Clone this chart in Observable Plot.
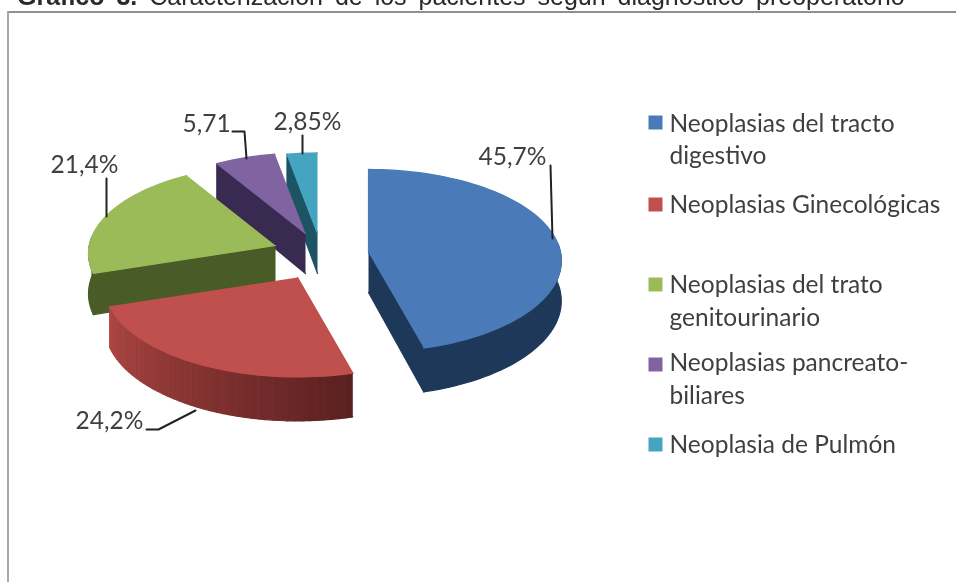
<!DOCTYPE html>
<html lang="es">
<head>
<meta charset="utf-8">
<script src="https://cdn.jsdelivr.net/npm/d3@7"></script>
<script src="https://cdn.jsdelivr.net/npm/@observablehq/plot@0.6"></script>
<style>
  html, body { margin: 0; padding: 0; background: #fff; overflow: hidden; }
  #title { height: 10px; overflow: hidden; font: 25px/10px "Liberation Sans", sans-serif; color: #2a2a2a; white-space: nowrap; padding-left: 17px; word-spacing: 5px; filter: blur(.5px); }
  #title > span { position: relative; top: -9px; }
  svg { display: block; filter: blur(.5px); }
</style>
</head>
<body>
<div id="title"><span><b>Gráfico 3.</b> Caracterización de los pacientes según diagnóstico preoperatorio</span></div>
<div id="chart"></div>
<script>
// --- values
const categories = ["Neoplasias del tracto digestivo", "Neoplasias Ginecológicas", "Neoplasias del trato genitourinario", "Neoplasias pancreato-biliares", "Neoplasia de Pulmón"];
const shares = [45.7, 24.2, 21.4, 5.71, 2.85];
const shareLabels = ["45,7%", "24,2%", "21,4%", "5,71", "2,85%"];
const legendLines = [["Neoplasias del tracto", "digestivo"], ["Neoplasias Ginecológicas"], ["Neoplasias del trato", "genitourinario"], ["Neoplasias pancreato-", "biliares"], ["Neoplasia de Pulmón"]];

// --- styles
const topColors = ["#4a7ab8", "#c0504d", "#9bbb59", "#8064a2", "#45a5c0"];
const wallNear = ["#1d3859", "#5a2020", "#495b26", "#392a52", "#1c5464"];
const wallFar = ["#1d3859", "#b04744", "#495b26", "#392a52", "#1c5464"];

// --- layout of the exploded 3D pie (chart units = page pixels)
const centers = [[368, 252], [297, 277], [275, 245], [305, 233], [317, 233]];
const radiusScale = [1, 1, 0.97, 0.97, 0.97];
const Rx = 192, Ry = 90.5, persp = 0.09, depth = 40;
const labelAt = [[478, 164], [75, 428], [50, 172], [182, 131], [273, 129]];
const leaders = [
  [[550, 165], [552, 238]],
  [[146, 429], [158, 429], [195, 410]],
  [[106, 178], [106, 216]],
  [[232, 131], [244, 131], [246, 158]],
  [[302, 135], [302, 153]]
];
const swatchY = [122, 204, 284, 364, 444];
const legendBaselines = [[131, 163], [212], [292, 325], [370, 403], [452]];
const legendX = 669, swatchX = 655;

// --- geometry derived from the shares
const total = d3.sum(shares);
const bounds = d3.cumsum(shares).map(v => v / total * 360);
const starts = [0, ...bounds.slice(0, -1)];
const project = (i, deg, down = 0) => {
  const t = deg * Math.PI / 180, X = Math.sin(t), Z = Math.cos(t), w = 1 / (1 + persp * Z), s = radiusScale[i];
  return [centers[i][0] + s * Rx * X * w, centers[i][1] - s * Ry * Z * w + down * depth * w];
};
const arcAngles = (a, b) => d3.range(a, b, 2).concat([b]);

const polys = [];
let id = 0;
const addPoly = (pts, fill) => { const z = id++; pts.forEach(p => polys.push({x: p[0], y: p[1], z, fill})); };
// back to front: pulmón, pancreato, genitourinario, ginecológicas, digestivo
[4, 3, 2, 1, 0].forEach(i => {
  const a = starts[i], b = bounds[i];
  // outer wall, only where it faces the viewer
  const wa = Math.max(a, 84), wb = Math.min(b, 276);
  if (wb > wa) {
    const seg = arcAngles(wa, wb);
    if (wallNear[i] === wallFar[i]) {
      addPoly([...seg.map(d => project(i, d)), ...seg.slice().reverse().map(d => project(i, d, 1))], wallNear[i]);
    } else {
      const mix = d3.interpolateRgb(wallNear[i], wallFar[i]);
      for (let s = 0; s < seg.length - 1; s++) {
        addPoly([project(i, seg[s]), project(i, seg[s + 1]), project(i, seg[s + 1], 1), project(i, seg[s], 1)], mix(s / (seg.length - 1)));
      }
    }
  }
  // cut faces that point towards the viewer
  const cc = centers[i], cd = [cc[0], cc[1] + depth];
  if (Math.cos((b + 90) * Math.PI / 180) < -0.01) addPoly([cc, project(i, b), project(i, b, 1), cd], wallNear[i]);
  if (Math.cos((a - 90) * Math.PI / 180) < -0.01) addPoly([cc, project(i, a), project(i, a, 1), cd], wallNear[i]);
  // top face
  addPoly([cc, ...arcAngles(a, b).map(d => project(i, d))], topColors[i]);
});

const leaderRows = leaders.flatMap((pts, k) => pts.map(p => ({x: p[0], y: p[1], k})));
const labelRows = shareLabels.map((t, i) => ({t, x: labelAt[i][0], y: labelAt[i][1]}));
const swatchRows = categories.map((c, i) => ({c, y: swatchY[i], fill: topColors[i]}));
const legendRows = legendLines.flatMap((ls, i) => ls.map((t, j) => ({t, y: legendBaselines[i][j]})));

const textStyle = {fontFamily: "Lato, sans-serif", fill: "#3f3f3f", textAnchor: "start", lineAnchor: "bottom"};

const chart = Plot.plot({
  width: 956, height: 572, margin: 0,
  x: {domain: [0, 956], range: [0, 956], axis: null},
  y: {domain: [10, 582], range: [0, 572], axis: null},
  color: {type: "identity"},
  marks: [
    Plot.ruleY([11.5], {x1: 7, x2: 956, stroke: "#8f8f8f", strokeWidth: 2}),
    Plot.ruleX([7.5], {y1: 11, y2: 582, stroke: "#a8a8a8", strokeWidth: 2}),
    Plot.line(polys, {x: "x", y: "y", z: "z", fill: "fill", stroke: "fill", strokeWidth: 1.2, strokeLinejoin: "round"}),
    Plot.line(leaderRows, {x: "x", y: "y", z: "k", stroke: "#222", strokeWidth: 2, curve: "linear"}),
    Plot.text(labelRows, {x: "x", y: "y", text: "t", fontSize: 24.5, ...textStyle}),
    Plot.dot(swatchRows, {x: () => swatchX, y: "y", symbol: "square", r: 7.9, fill: "fill", title: "c"}),
    Plot.text(legendRows, {x: () => legendX, y: "y", text: "t", fontSize: 24.5, ...textStyle})
  ]
});
document.getElementById("chart").append(chart);
</script>
</body>
</html>
